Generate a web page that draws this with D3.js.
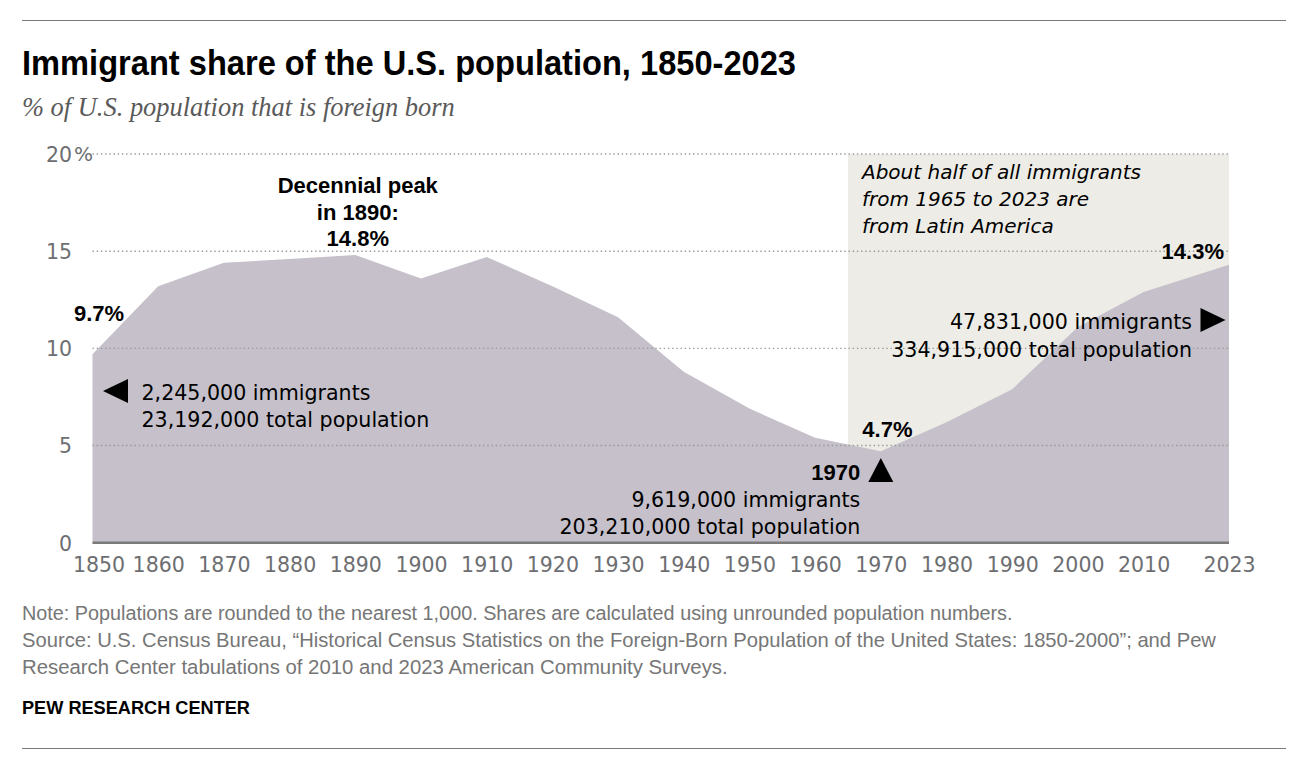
<!DOCTYPE html>
<html><head><meta charset="utf-8">
<script src="https://cdn.jsdelivr.net/npm/d3@7"></script>
<style>body{margin:0;background:#fff} svg{display:block}</style>
</head><body>
<svg id="chart" width="1308" height="768"></svg>
<script>
// ---- data ----
const years  = [1850,1860,1870,1880,1890,1900,1910,1920,1930,1940,1950,1960,1970,1980,1990,2000,2010,2023];
const shares = [9.7,13.2,14.4,14.6,14.8,13.6,14.7,13.2,11.6,8.8,6.9,5.4,4.7,6.2,7.9,11.1,12.9,14.3];
const yTicks = [0,5,10,15,20];
const xTickLabels = years.map(String);
const shadeStart = 1965, shadeEnd = 2023;
const peakYear = 1890, peakShare = 14.8;
const lowYear = 1970, lowShare = 4.7;
const title = "Immigrant share of the U.S. population, 1850-2023";
const subtitle = "% of U.S. population that is foreign born";
const notes = [
  "Note: Populations are rounded to the nearest 1,000. Shares are calculated using unrounded population numbers.",
  "Source: U.S. Census Bureau, \u201CHistorical Census Statistics on the Foreign-Born Population of the United States: 1850-2000\u201D; and Pew",
  "Research Center tabulations of 2010 and 2023 American Community Surveys."
];
const credit = "PEW RESEARCH CENTER";
const shadeNote = ["About half of all immigrants","from 1965 to 2023 are","from Latin America"];
const peakNote = ["Decennial peak","in 1890:","14.8%"];
const startNote = ["2,245,000 immigrants","23,192,000 total population"];
const lowNote = ["9,619,000 immigrants","203,210,000 total population"];
const endNote = ["47,831,000 immigrants","334,915,000 total population"];

const data = years.map((yr,i)=>({year:yr, share:shares[i]}));

// ---- layout ----
const svg = d3.select("#chart");
const x = d3.scaleLinear().domain([1850,2023]).range([92.5,1229]);
const y = d3.scaleLinear().domain([0,20]).range([542.7,154]);

const REG = "'DejaVu Sans', sans-serif";
const BOLD = "'Liberation Sans', Arial, sans-serif";

function fit(sel, target){
  const w = sel.node().getComputedTextLength();
  const fs = parseFloat(sel.attr("font-size"));
  sel.attr("font-size", (fs*target/w).toFixed(2));
  return fs*target/w;
}
function squeeze(sel, target){
  const w = sel.node().getComputedTextLength();
  if (w > target) sel.attr("textLength", target).attr("lengthAdjust","spacingAndGlyphs");
  else fit(sel, target);
}

// rules
svg.append("line").attr("x1",22).attr("x2",1286).attr("y1",20.5).attr("y2",20.5)
  .attr("stroke","#7a7a7a").attr("stroke-width",1.2);
svg.append("line").attr("x1",22).attr("x2",1286).attr("y1",748.5).attr("y2",748.5)
  .attr("stroke","#7a7a7a").attr("stroke-width",1.2);

// title / subtitle
const t = svg.append("text").attr("x",22).attr("y",75).text(title)
  .attr("font-family",BOLD).attr("font-weight","bold").attr("font-size",34.5).attr("fill","#000");
squeeze(t, 774);
const st = svg.append("text").attr("x",22).attr("y",116).text(subtitle)
  .attr("font-family","'Liberation Serif','Times New Roman',serif").attr("font-style","italic")
  .attr("font-size",22).attr("fill","#5a5a5a");
squeeze(st, 433);

// shaded period
svg.append("rect")
  .attr("x", x(shadeStart)).attr("width", x(shadeEnd)-x(shadeStart))
  .attr("y", y(20)).attr("height", y(0)-y(20))
  .attr("fill","#edece6");

// area
const area = d3.area().x(d=>x(d.year)).y0(y(0)).y1(d=>y(d.share)).curve(d3.curveLinear);
svg.append("path").datum(data).attr("d", area).attr("fill","#c5c0ca");

// grid
svg.append("g").selectAll("line").data(yTicks.filter(d=>d>0)).join("line")
  .attr("x1", x.range()[0]).attr("x2", x.range()[1])
  .attr("y1", d=>y(d)).attr("y2", d=>y(d))
  .attr("stroke","#999").attr("stroke-width",1.4).attr("stroke-dasharray","1.4,2.8");

// y axis labels
const yAxis = d3.axisLeft(y).tickValues(yTicks).tickSize(0).tickPadding(20.5).tickFormat(d3.format("d"));
const gy = svg.append("g").attr("transform",`translate(${x.range()[0]},0)`).call(yAxis);
gy.select(".domain").remove();
gy.selectAll("text").attr("font-family",REG).attr("font-size",20.5).attr("fill","#6d6e71").attr("dy","0.36em");
svg.append("text").attr("x", x.range()[0]-18.5).attr("y", y(20)).attr("dy","0.36em").text("%")
  .attr("font-family",REG).attr("font-size",20).attr("fill","#6d6e71");

// x axis
const xAxis = d3.axisBottom(x).tickValues(years).tickSize(0).tickFormat((d,i)=>xTickLabels[i]);
const gx = svg.append("g").attr("transform",`translate(0,${y(0)})`).call(xAxis);
gx.select(".domain").remove();
gx.selectAll("text").attr("font-family",REG).attr("font-size",20.5).attr("fill","#6d6e71")
  .attr("y",29.3).attr("dy",0).attr("dx",(d,i)=> i===0 ? 6 : 0);
svg.append("line").attr("x1",x.range()[0]).attr("x2",x.range()[1]).attr("y1",y(0)).attr("y2",y(0))
  .attr("stroke","#7b7b7b").attr("stroke-width",2.4);

// annotations
function lines(arr, xx, y0, lh, anchor, opts){
  arr.forEach((s,i)=>{
    const el = svg.append("text").attr("x",xx).attr("y",y0+i*lh).attr("text-anchor",anchor).text(s)
      .attr("font-family",opts.family).attr("font-size",opts.size).attr("fill","#000");
    if(opts.weight) el.attr("font-weight",opts.weight);
    if(opts.style) el.attr("font-style",opts.style);
  });
}
const boldOpt = {family:BOLD, size:22, weight:"bold"};
const regOpt = {family:REG, size:20.6};
const itOpt = {family:REG, size:20, style:"italic"};

// peak
lines(peakNote, x(peakYear)+2.5, 193, 26.5, "middle", boldOpt);
// start
lines([shares[0].toFixed(1)+"%"], x(1850)-18.5, 321, 0, "start", boldOpt);
lines(startNote, x(1850)+49, 400, 27.3, "start", regOpt);
// low point
lines([lowShare.toFixed(1)+"%"], x(lowYear)-18.5, 436.5, 0, "start", boldOpt);
lines([String(lowYear)], x(lowYear)-20.5, 480, 0, "end", boldOpt);
lines(lowNote, x(lowYear)-20.5, 506.7, 27.3, "end", regOpt);
// end
lines([shares[shares.length-1].toFixed(1)+"%"], x(2023)-5, 259, 0, "end", boldOpt);
lines(endNote, x(2023)-37, 329.3, 27.4, "end", regOpt);
// shade note
lines(shadeNote, x(shadeStart)+14, 179.3, 27, "start", itOpt);

// triangles
function tri(cx, cy, dir){
  const w = 25, h = 24;
  let pts;
  if(dir==="left")  pts = [[cx-w/2,cy],[cx+w/2,cy-h/2],[cx+w/2,cy+h/2]];
  if(dir==="right") pts = [[cx+w/2,cy],[cx-w/2,cy-h/2],[cx-w/2,cy+h/2]];
  if(dir==="up")    pts = [[cx,cy-h/2],[cx-w/2,cy+h/2],[cx+w/2,cy+h/2]];
  svg.append("path").attr("d","M"+pts.map(p=>p.join(",")).join("L")+"Z").attr("fill","#000");
}
tri(x(1850)+23, 391, "left");
tri(x(lowYear), 470, "up");
tri(x(2023)-16, 320, "right");

// notes
const noteW = [990, 1193, 705];
const noteY = [619.5, 647, 674];
notes.forEach((s,i)=>{
  const el = svg.append("text").attr("x",22).attr("y",noteY[i]).text(s)
    .attr("font-family",BOLD).attr("font-size",18.3).attr("fill","#767676");
  squeeze(el, noteW[i]);
});

const cr = svg.append("text").attr("x",22).attr("y",714).text(credit)
  .attr("font-family",BOLD).attr("font-weight","bold").attr("font-size",18.5).attr("fill","#000");
squeeze(cr, 228);
</script>
</body></html>
